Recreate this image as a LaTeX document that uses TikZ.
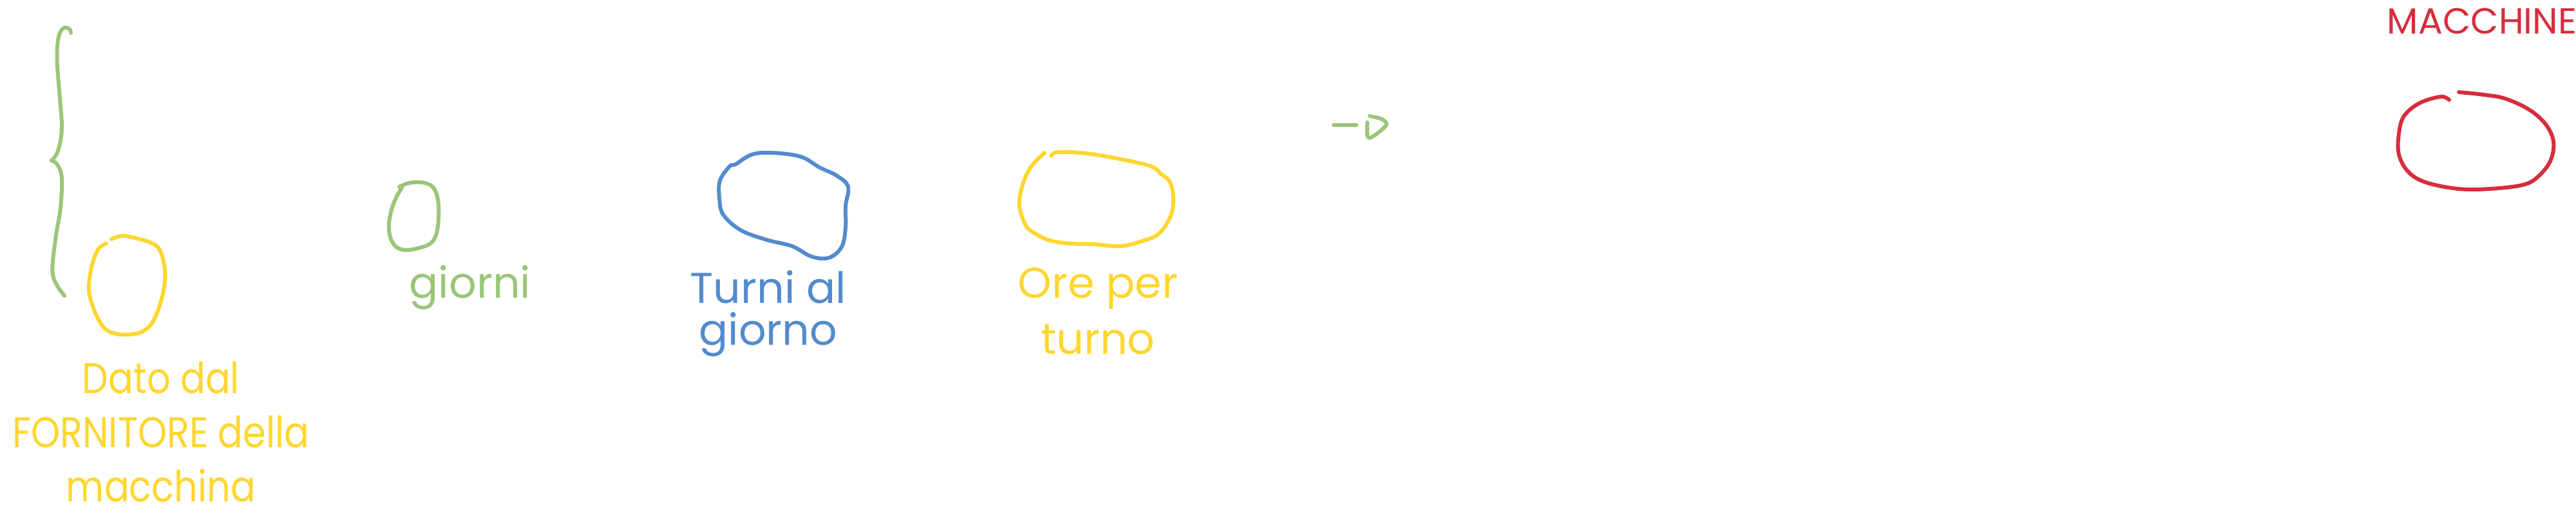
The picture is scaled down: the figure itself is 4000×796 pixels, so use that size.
\documentclass[tikz,border=0pt]{standalone}
\usepackage{fontspec}
\setmainfont{Poppins}
\definecolor{leafgreen}{HTML}{9BC578}
\definecolor{shiftblue}{HTML}{528BCE}
\definecolor{sunyellow}{HTML}{FFD630}
\definecolor{machred}{HTML}{D72D3C}
\begin{document}
\begin{tikzpicture}[x=0.1mm,y=-0.1mm]
  \useasboundingbox (0,0) rectangle (4000,796);
  \tikzset{ink/.style={line width=1.7pt,line cap=round,line join=round},
           note/.style={inner sep=0pt,align=center,font=\fontsize{19}{25}\selectfont}}
  % brace
  \draw[ink,leafgreen] plot[smooth,tension=0.6] coordinates
    {(110,51) (108,45) (100,43) (93,51) (89,71) (89,102) (93,152) (96,193) (94,218) (88,239) (80,249)};
  \draw[ink,leafgreen] plot[smooth,tension=0.6] coordinates
    {(80,249) (88,254) (95,269) (96,294) (93,330) (87,365) (82,406) (82,426) (88,442) (100,459)};
  % blobs
  \draw[ink,sunyellow] plot[smooth,tension=0.6] coordinates
    {(165,378) (153,386) (143,411) (138,442) (140,462) (150,490) (163,510) (180,518) (200,519) (220,515)
     (237,500) (250,467) (256,437) (255,411) (247,386) (233,376) (213,370) (190,366) (173,371)};
  \draw[ink,leafgreen] plot[smooth,tension=0.6] coordinates
    {(620,290) (635,284) (655,283) (672,290) (680,310) (681,340) (677,365) (668,378) (650,385) (630,388)
     (615,383) (606,368) (604,348) (608,325) (615,307) (624,291)};
  \draw[ink,shiftblue] plot[smooth cycle,tension=0.6] coordinates
    {(1142,255) (1167,240) (1197,237) (1243,243) (1273,260) (1300,273) (1317,290) (1313,320) (1313,353)
     (1307,383) (1287,400) (1260,398) (1230,382) (1190,372) (1150,357) (1123,333) (1117,307) (1118,280) (1133,258)};
  \draw[ink,sunyellow] plot[smooth,tension=0.6] coordinates
    {(1622,237) (1600,260) (1587,290) (1583,320) (1593,350) (1607,362) (1630,373) (1663,378) (1700,379)
     (1740,382) (1777,373) (1800,362) (1817,337) (1822,310) (1817,283) (1803,270) (1787,258) (1740,247)
     (1687,238) (1643,236) (1632,242)};
  \draw[ink,machred] plot[smooth,tension=0.6] coordinates
    {(3803,155) (3790,150) (3757,160) (3733,180) (3725,207) (3725,240) (3740,267) (3767,283) (3817,293)
     (3867,293) (3917,287) (3940,275) (3960,250) (3965,220) (3953,193) (3927,170) (3890,153) (3857,147) (3818,143)};
  % arrow
  \draw[ink,leafgreen] (2071,194) -- (2106,194);
  \draw[ink,leafgreen] plot[smooth,tension=0.5] coordinates
    {(2127,180) (2146,185) (2153,193) (2140,206) (2127,214) (2123,209) (2123,190)};
  % labels
  \node[note,sunyellow,anchor=north,xscale=0.86,font=\fontsize{19}{24}\selectfont] (dato) at (250,560) {Dato dal\\FORNITORE della\\macchina};
  \node[note,leafgreen,anchor=base] (giorni) at (730,462) {giorni};
  \node[note,shiftblue,anchor=north,font=\fontsize{19}{18.5}\selectfont] (turni) at (1193,419) {Turni al\\giorno};
  \node[note,sunyellow,anchor=north,font=\fontsize{19}{24.7}\selectfont] (ore) at (1705,415) {Ore per\\turno};
  \node[note,machred,anchor=base,font=\fontsize{16}{20}\selectfont] (macchine) at (3854,52) {MACCHINE};
\end{tikzpicture}
\end{document}
